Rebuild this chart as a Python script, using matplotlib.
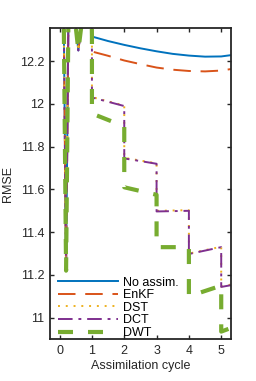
import matplotlib
matplotlib.use("Agg")
import matplotlib.pyplot as plt
from matplotlib.ticker import FormatStrFormatter

plt.rcParams['font.family'] = ['Liberation Sans', 'DejaVu Sans']

# shared spin-up before the first analysis (all methods identical)
t_spin = [0.0, 0.2, 0.4, 0.47, 0.58, 0.7, 0.8]
y_spin = [14.5, 11.22, 14.5, 12.40, 12.25, 12.40, 14.5]

# no assimilation
t_na = [1.0, 1.5, 2.0, 2.5, 3.0, 3.5, 4.0, 4.5, 5.0, 5.3]
y_na = [12.315, 12.294, 12.276, 12.26, 12.246, 12.234, 12.226, 12.221, 12.222, 12.228]

# EnKF
t_enkf = [1.0, 1.0, 1.5, 2.0, 2.5, 3.0, 3.5, 4.0, 4.5, 5.0, 5.3]
y_enkf = [12.315, 12.245, 12.225, 12.203, 12.186, 12.17, 12.16, 12.154, 12.152, 12.156, 12.163]

# forecast / analysis pairs at each cycle
t_cyc = [1.0, 1.0, 2.0, 2.0, 3.0, 3.0, 4.0, 4.0, 5.0, 5.0, 5.3]
y_dst = [12.315, 12.032, 11.992, 11.748, 11.722, 11.50, 11.503, 11.30, 11.332, 11.146, 11.155]
y_dct = [12.315, 12.03, 11.99, 11.745, 11.72, 11.497, 11.50, 11.298, 11.33, 11.144, 11.152]
y_dwt = [12.315, 11.955, 11.895, 11.61, 11.575, 11.33, 11.33, 11.10, 11.15, 10.935, 10.952]

labels = ['No assim.', 'EnKF', 'DST', 'DCT', 'DWT']
colors = ['#0072BD', '#D95319', '#EDB120', '#7E2F8E', '#77AC30']

fig = plt.figure(figsize=(2.56, 3.81), dpi=100)
ax = fig.add_axes([0.195, 0.11, 0.707, 0.8165])

ax.plot(t_spin + t_na, y_spin + y_na, color=colors[0], lw=1.4, label=labels[0])
ax.plot(t_spin + t_enkf, y_spin + y_enkf, color=colors[1], lw=1.4,
        linestyle=(0, (9, 5)), dash_capstyle='butt', label=labels[1])
ax.plot(t_spin + t_cyc, y_spin + y_dst, color=colors[2], lw=1.4,
        linestyle=(0, (1, 3)), label=labels[2])
ax.plot(t_spin + t_cyc, y_spin + y_dct, color=colors[3], lw=1.4,
        linestyle=(0, (7.5, 3, 1.5, 3)), dash_capstyle='butt', label=labels[3])
ax.plot(t_spin + t_cyc, y_spin + y_dwt, color=colors[4], lw=3.0,
        linestyle=(0, (3.6, 3.6)), dash_capstyle='butt', label=labels[4])

ax.set_xlim(-0.3, 5.3)
ax.set_ylim(10.9, 12.355)
ax.set_xticks([0, 1, 2, 3, 4, 5])
ax.set_yticks([11, 11.2, 11.4, 11.6, 11.8, 12, 12.2])
ax.yaxis.set_major_formatter(FormatStrFormatter('%g'))
ax.tick_params(direction='in', top=True, right=True, length=3, width=1.0,
               labelsize=9, colors='#262626', pad=4)
for s in ax.spines.values():
    s.set_linewidth(1.3)
    s.set_color('#262626')

ax.set_xlabel('Assimilation cycle', fontsize=9, color='#262626', labelpad=2.5)
ax.set_ylabel('RMSE', fontsize=9, color='#262626', labelpad=4)

ax.legend(loc='lower left', bbox_to_anchor=(0.044, 0.0), frameon=False,
          fontsize=9, handlelength=4.8, handletextpad=0.4, labelspacing=0.05,
          borderaxespad=0, borderpad=0)

fig.savefig('out.png', dpi=100)
